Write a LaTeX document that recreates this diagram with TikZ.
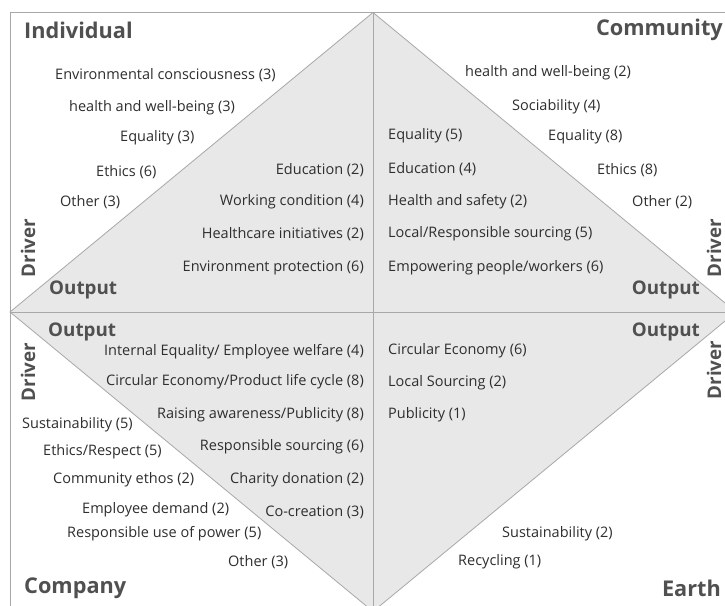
\documentclass[tikz,border=0pt]{standalone}
\usepackage{fontspec}
\setmainfont{Open Sans}
\begin{document}
\begin{tikzpicture}[x=1pt,y=-1pt,
  lbl/.style={inner sep=0pt,text=txt,font=\fontsize{14.5}{16}\selectfont},
  big/.style={inner sep=0pt,text=ttl,font=\fontsize{21.7}{24}\bfseries\selectfont},
  sub/.style={inner sep=0pt,text=ttl,font=\fontsize{18.8}{21}\bfseries\selectfont},
  edge/.style={draw=linec,line width=0.8pt}]
\definecolor{txt}{HTML}{2E2E2E}
\definecolor{ttl}{HTML}{505050}
\definecolor{linec}{HTML}{A8A8A8}
\definecolor{dfill}{HTML}{E8E8E8}
\useasboundingbox (0,0) rectangle (725,605);
\begin{scope}
\clip (0,0) rectangle (725,605);
\fill[white] (0,0) rectangle (725,605);
\coordinate (T) at (373,12.5);
\coordinate (L) at (10,312);
\coordinate (R) at (736,312);
\coordinate (B) at (373,611.5);
\coordinate (C) at (373,312);
\fill[dfill] (T) -- (R) -- (B) -- (L) -- cycle;
\draw[edge] (T) -- (R) -- (B) -- (L) -- cycle;
\coordinate (TL) at (10,12.5);
\coordinate (TR) at (730,12.5);
\coordinate (BL) at (10,610);
\coordinate (ML) at (10,312);
\coordinate (MR) at (730,312);
\coordinate (MB) at (373,610);
\draw[edge] (TR) -- (TL) -- (BL);
\draw[edge] (T) -- (MB);
\draw[edge] (ML) -- (MR);
\end{scope}
% titles
\node[big,anchor=west] (ind) at (24,30) {Individual};
\node[big,anchor=east] (com) at (723,30) {Community};
\node[big,anchor=west] (cpy) at (24,588) {Company};
\node[big,anchor=east] (ear) at (721,588) {Earth};
\node[sub,anchor=west] (o1) at (49,290) {Output};
\node[sub,anchor=east] (o2) at (700,290) {Output};
\node[sub,anchor=west] (o3) at (48,332) {Output};
\node[sub,anchor=east] (o4) at (700,332) {Output};
\node[sub,rotate=90] (d1) at (28,248) {Driver};
\node[sub,rotate=90] (d2) at (714,248) {Driver};
\node[sub,rotate=90] (d3) at (28,372) {Driver};
\node[sub,rotate=90] (d4) at (714,370) {Driver};
% Individual drivers
\node[lbl,anchor=west] (a1) at (55,75) {Environmental consciousness (3)};
\node[lbl,anchor=west] (a2) at (69,108) {health and well-being (3)};
\node[lbl,anchor=west] (a3) at (120,138) {Equality (3)};
\node[lbl,anchor=west] (a4) at (96,172) {Ethics (6)};
\node[lbl,anchor=west] (a5) at (60,202) {Other (3)};
% Individual outputs
\node[lbl,anchor=east] (b1) at (364,170) {Education (2)};
\node[lbl,anchor=east] (b2) at (364,202) {Working condition (4)};
\node[lbl,anchor=east] (b3) at (364,234) {Healthcare initiatives (2)};
\node[lbl,anchor=east] (b4) at (364,268) {Environment protection (6)};
% Community drivers
\node[lbl,anchor=west] (c1) at (465,73) {health and well-being (2)};
\node[lbl,anchor=west] (c2) at (512,107) {Sociability (4)};
\node[lbl,anchor=west] (c3) at (548,137) {Equality (8)};
\node[lbl,anchor=west] (c4) at (597,170) {Ethics (8)};
\node[lbl,anchor=west] (c5) at (632,202) {Other (2)};
% Community outputs
\node[lbl,anchor=west] (e1) at (388,136) {Equality (5)};
\node[lbl,anchor=west] (e2) at (388,169) {Education (4)};
\node[lbl,anchor=west] (e3) at (388,202) {Health and safety (2)};
\node[lbl,anchor=west] (e4) at (388,234) {Local/Responsible sourcing (5)};
\node[lbl,anchor=west] (e5) at (388,268) {Empowering people/workers (6)};
% Company outputs
\node[lbl,anchor=east] (f1) at (364,352) {Internal Equality/ Employee welfare (4)};
\node[lbl,anchor=east] (f2) at (364,382) {Circular Economy/Product life cycle (8)};
\node[lbl,anchor=east] (f3) at (364,415) {Raising awareness/Publicity (8)};
\node[lbl,anchor=east] (f4) at (364,447) {Responsible sourcing (6)};
\node[lbl,anchor=east] (f5) at (364,480) {Charity donation (2)};
\node[lbl,anchor=east] (f6) at (364,512) {Co-creation (3)};
% Company drivers
\node[lbl,anchor=west] (g1) at (22,425) {Sustainability (5)};
\node[lbl,anchor=west] (g2) at (43,452) {Ethics/Respect (5)};
\node[lbl,anchor=west] (g3) at (53,480) {Community ethos (2)};
\node[lbl,anchor=west] (g4) at (82,510) {Employee demand (2)};
\node[lbl,anchor=west] (g5) at (67,534) {Responsible use of power (5)};
\node[lbl,anchor=west] (g6) at (228,562) {Other (3)};
% Earth outputs
\node[lbl,anchor=west] (h1) at (388,351) {Circular Economy (6)};
\node[lbl,anchor=west] (h2) at (388,383) {Local Sourcing (2)};
\node[lbl,anchor=west] (h3) at (388,415) {Publicity (1)};
% Earth drivers
\node[lbl,anchor=west] (k1) at (502,534) {Sustainability (2)};
\node[lbl,anchor=west] (k2) at (458,562) {Recycling (1)};
\end{tikzpicture}
\end{document}
